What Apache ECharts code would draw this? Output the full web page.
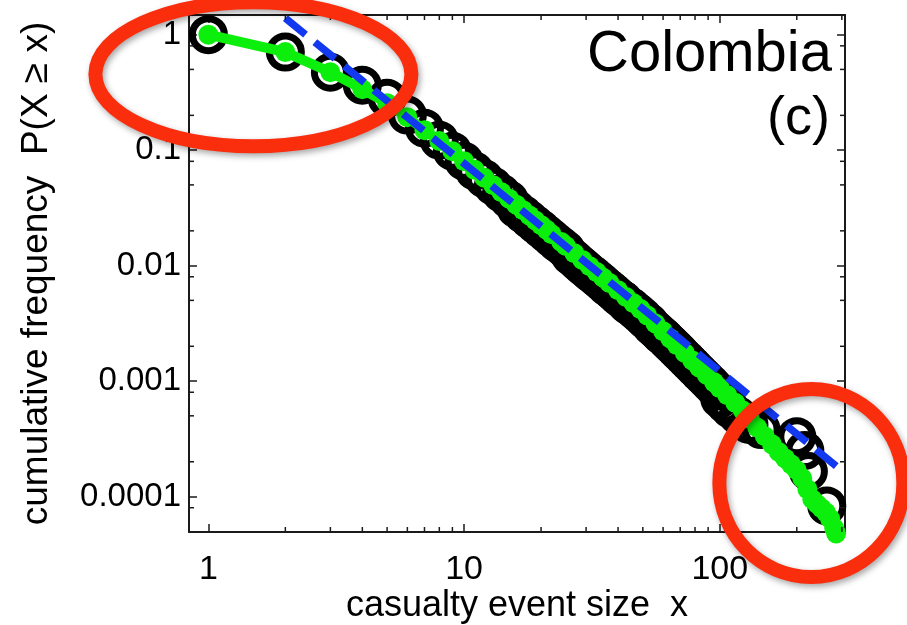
<!DOCTYPE html>
<html>
<head>
<meta charset="utf-8">
<script src="https://cdn.jsdelivr.net/npm/echarts@6/dist/echarts.min.js"></script>
<style>
  html, body { margin: 0; padding: 0; background: #fff; }
  #chart { width: 907px; height: 625px; }
</style>
</head>
<body>
<div id="chart"></div>
<script>
// empirical distribution (open black circles)
var dataX = [1, 2, 3, 4, 5, 6, 7, 8, 9,
  10, 11, 12, 13, 14, 15, 16, 17, 18, 19, 20, 21, 22, 23, 24, 25, 26, 27, 28, 29,
  30, 31, 32, 33, 34, 35, 36, 37, 38, 39, 40, 41, 42, 43, 44, 45, 46, 47, 48, 49,
  50, 51, 52, 53, 54, 55, 56, 57, 58, 59, 60, 61, 62, 63, 64, 65, 66, 67, 68, 69,
  70, 72, 74, 76, 78, 80, 83, 86, 89, 92, 95, 98,
  100, 105, 110, 118, 130, 145, 200, 215, 222, 262]
var dataP = [1, 0.706, 0.473, 0.365, 0.282, 0.201, 0.155, 0.122, 0.098,
  0.080, 0.066, 0.0565, 0.0486, 0.0423, 0.0372, 0.0311, 0.0279, 0.0251, 0.0227,
  0.0207, 0.0189, 0.0173, 0.0159, 0.0148, 0.0137, 0.0122, 0.0114, 0.0106, 0.0099,
  0.0093, 0.0087, 0.0083, 0.0078, 0.0074, 0.0070, 0.0066, 0.0063, 0.0060, 0.0057,
  0.0054, 0.0052, 0.0050, 0.0047, 0.0045, 0.0044, 0.0042, 0.0040, 0.0039, 0.0037,
  0.0036, 0.0034, 0.0033, 0.0032, 0.0030, 0.0029, 0.0028, 0.0027, 0.0026, 0.0025,
  0.00244, 0.00236, 0.00227, 0.00219, 0.00212, 0.00205, 0.00198, 0.00192, 0.00186, 0.00180,
  0.00174, 0.00163, 0.00154, 0.00145, 0.00137, 0.00129, 0.00119, 0.00110, 0.00102, 0.00095,
  0.00088, 0.00082,
  0.00070, 0.00063, 0.00057, 0.00050, 0.00042, 0.00038, 0.00033, 0.00025, 0.000165, 0.000083]

// model curve (green)
var modelX = [1, 2, 3, 4, 5, 6, 7, 8, 9, 10, 11, 12, 13, 14, 15, 16, 17, 18, 19, 20,
  21, 22, 24, 25, 27, 29, 31, 33, 35, 37, 40, 43, 46, 49, 52, 56, 60, 64, 68, 73,
  78, 83, 89, 95, 100, 107, 115, 123, 131, 140, 150, 160, 170, 180, 190, 200, 210,
  220, 230, 240, 250, 260, 270, 280, 285]
var modelP = [1, 0.706, 0.473, 0.337, 0.255, 0.193, 0.149, 0.120, 0.098, 0.0803,
  0.0675, 0.0576, 0.0496, 0.0432, 0.0380, 0.0337, 0.0302, 0.0272, 0.0246, 0.0224,
  0.0205, 0.0187, 0.0160, 0.0148, 0.0128, 0.0112, 0.00986, 0.00879, 0.00785, 0.00708,
  0.00612, 0.00535, 0.00472, 0.00420, 0.00371, 0.00315, 0.00270, 0.00234, 0.00205, 0.00175,
  0.00151, 0.00131, 0.00113, 0.000975, 0.000869, 0.000755, 0.000648, 0.000556, 0.000471, 0.000396,
  0.000333, 0.000283, 0.000243, 0.000214, 0.000190, 0.000169, 0.000144, 0.000116, 0.0000948, 0.0000861,
  0.0000792, 0.0000730, 0.0000643, 0.0000533, 0.0000479]

// power-law fit (blue dashed)
var fitX = [2, 308]
var fitP = [1.39, 0.00016]

// axes
var xTickLabels = ['1', '10', '100']
var yTickLabels = ['0.0001', '0.001', '0.01', '0.1', '1']
var xMinorTicks = [2, 3, 4, 5, 6, 7, 8, 9, 20, 30, 40, 50, 60, 70, 80, 90, 200, 300]
var yMinorTicks = [0.8, 0.5, 0.2, 0.08, 0.05, 0.02, 0.008, 0.005, 0.002,
  0.0008, 0.0005, 0.0002, 0.00008]
var X_MIN = 0.84
var X_MAX = 308.7
var Y_MIN = 0.0000493
var Y_MAX = 1.48

// annotation rings, anchored in data space
var ringCenters = [[1.5, 0.455], [228, 0.000131]]
var ringRadii = [[158, 72], [92, 94]]

var FONT = "'Liberation Sans', Arial, Helvetica, sans-serif"
var AXIS_COLOR = '#1a1a1a'

function zip (xs, ys) {
  return xs.map(function (x, i) { return [x, ys[i]] })
}

function decadeLabel (labels, offset) {
  return function (v) {
    var l = Math.log10(v)
    var e = Math.round(l)
    if (Math.abs(l - e) > 0.01) return ''
    return labels[e + offset] || ''
  }
}

function tickLine (x1, y1, x2, y2) {
  return {
    type: 'line',
    shape: { x1: x1, y1: y1, x2: x2, y2: y2 },
    style: { stroke: AXIS_COLOR, lineWidth: 1.5 }
  }
}

var chart = echarts.init(document.getElementById('chart'))

var baseAxis = {
  type: 'log',
  logBase: 10,
  axisLine: { show: true, onZero: false, lineStyle: { color: AXIS_COLOR, width: 2 } },
  axisTick: { show: true, inside: true, length: 8, lineStyle: { color: AXIS_COLOR, width: 1.5 } },
  splitLine: { show: false },
  minorTick: { show: false },
  minorSplitLine: { show: false }
}

var option = {
  animation: false,
  backgroundColor: '#fff',
  grid: { left: 189, right: 62, top: 15, bottom: 93, containLabel: false, outerBoundsMode: 'none' },
  xAxis: [
    Object.assign({}, baseAxis, {
      min: X_MIN,
      max: X_MAX,
      position: 'bottom',
      axisLabel: {
        show: true, margin: 21, fontSize: 34, color: '#000', fontFamily: FONT,
        showMinLabel: false, showMaxLabel: false,
        formatter: decadeLabel(xTickLabels, 0)
      },
      name: 'casualty event size  x',
      nameLocation: 'middle',
      nameGap: 56,
      nameMoveOverlap: false,
      nameTextStyle: { fontSize: 36, color: '#000', fontFamily: FONT }
    }),
    Object.assign({}, baseAxis, {
      min: X_MIN,
      max: X_MAX,
      position: 'top',
      axisLabel: { show: false }
    })
  ],
  yAxis: [
    Object.assign({}, baseAxis, {
      min: Y_MIN,
      max: Y_MAX,
      position: 'left',
      axisLabel: {
        show: true, margin: 8, fontSize: 33, color: '#000', fontFamily: FONT,
        showMinLabel: false, showMaxLabel: false,
        formatter: decadeLabel(yTickLabels, 4)
      },
      name: 'cumulative frequency  P(X \u2265 x)',
      nameLocation: 'middle',
      nameRotate: 90,
      nameGap: 134,
      nameMoveOverlap: false,
      nameTextStyle: { fontSize: 37, color: '#000', fontFamily: FONT }
    }),
    Object.assign({}, baseAxis, {
      min: Y_MIN,
      max: Y_MAX,
      position: 'right',
      axisLabel: { show: false }
    })
  ],
  series: [
    {
      name: 'data',
      type: 'scatter',
      data: zip(dataX, dataP),
      symbol: 'circle',
      symbolSize: 32,
      itemStyle: { color: 'rgba(0,0,0,0)', borderColor: '#000', borderWidth: 7, opacity: 1 },
      emphasis: { disabled: true },
      z: 2
    },
    {
      name: 'model',
      type: 'line',
      data: zip(modelX, modelP),
      symbol: 'circle',
      symbolSize: 20,
      showSymbol: true,
      showAllSymbol: true,
      clip: false,
      lineStyle: { color: '#0cef0c', width: 10 },
      itemStyle: { color: '#0cef0c', borderWidth: 0 },
      emphasis: { disabled: true },
      z: 3
    },
    {
      name: 'fit',
      type: 'line',
      data: zip(fitX, fitP),
      symbol: 'none',
      lineStyle: { color: '#1238f0', width: 7.5, type: [26, 12], cap: 'butt' },
      emphasis: { disabled: true },
      z: 4
    },
    {
      // minor ticks on bottom and top
      type: 'custom',
      data: xMinorTicks.map(function (v) { return [v, Y_MIN] }),
      encode: { x: 0, y: 1 },
      silent: true,
      clip: false,
      z: 5,
      renderItem: function (params, api) {
        var v = api.value(0)
        var b = api.coord([v, Y_MIN])
        var t = api.coord([v, Y_MAX])
        return {
          type: 'group',
          children: [tickLine(b[0], b[1], b[0], b[1] - 5), tickLine(t[0], t[1], t[0], t[1] + 5)]
        }
      }
    },
    {
      // minor ticks on left and right
      type: 'custom',
      data: yMinorTicks.map(function (v) { return [X_MIN, v] }),
      encode: { x: 0, y: 1 },
      silent: true,
      clip: false,
      z: 5,
      renderItem: function (params, api) {
        var v = api.value(1)
        var l = api.coord([X_MIN, v])
        var r = api.coord([X_MAX, v])
        return {
          type: 'group',
          children: [tickLine(l[0], l[1], l[0] + 5, l[1]), tickLine(r[0], r[1], r[0] - 5, r[1])]
        }
      }
    }
  ]
}

chart.setOption(option)

// panel labels and red annotation rings
var topRight = chart.convertToPixel({ gridIndex: 0 }, [X_MAX, Y_MAX])
var graphics = [
  {
    type: 'text',
    right: 907 - topRight[0] + 13,
    top: 26,
    style: { text: 'Colombia', font: '58px ' + FONT, fill: '#000' },
    z: 50
  },
  {
    type: 'text',
    right: 907 - topRight[0] + 15,
    top: 92,
    style: { text: '(c)', font: '54px ' + FONT, fill: '#000' },
    z: 50
  }
]
ringCenters.forEach(function (c, i) {
  var p = chart.convertToPixel({ gridIndex: 0 }, c)
  graphics.push({
    type: 'ellipse',
    shape: { cx: p[0], cy: p[1], rx: ringRadii[i][0], ry: ringRadii[i][1] },
    style: {
      fill: 'none',
      stroke: '#fa2d0c',
      lineWidth: 14,
      shadowColor: 'rgba(0,0,0,0.35)',
      shadowBlur: 6,
      shadowOffsetX: 2,
      shadowOffsetY: 3
    },
    silent: true,
    z: 100
  })
})
chart.setOption({ graphic: graphics })
</script>
</body>
</html>
